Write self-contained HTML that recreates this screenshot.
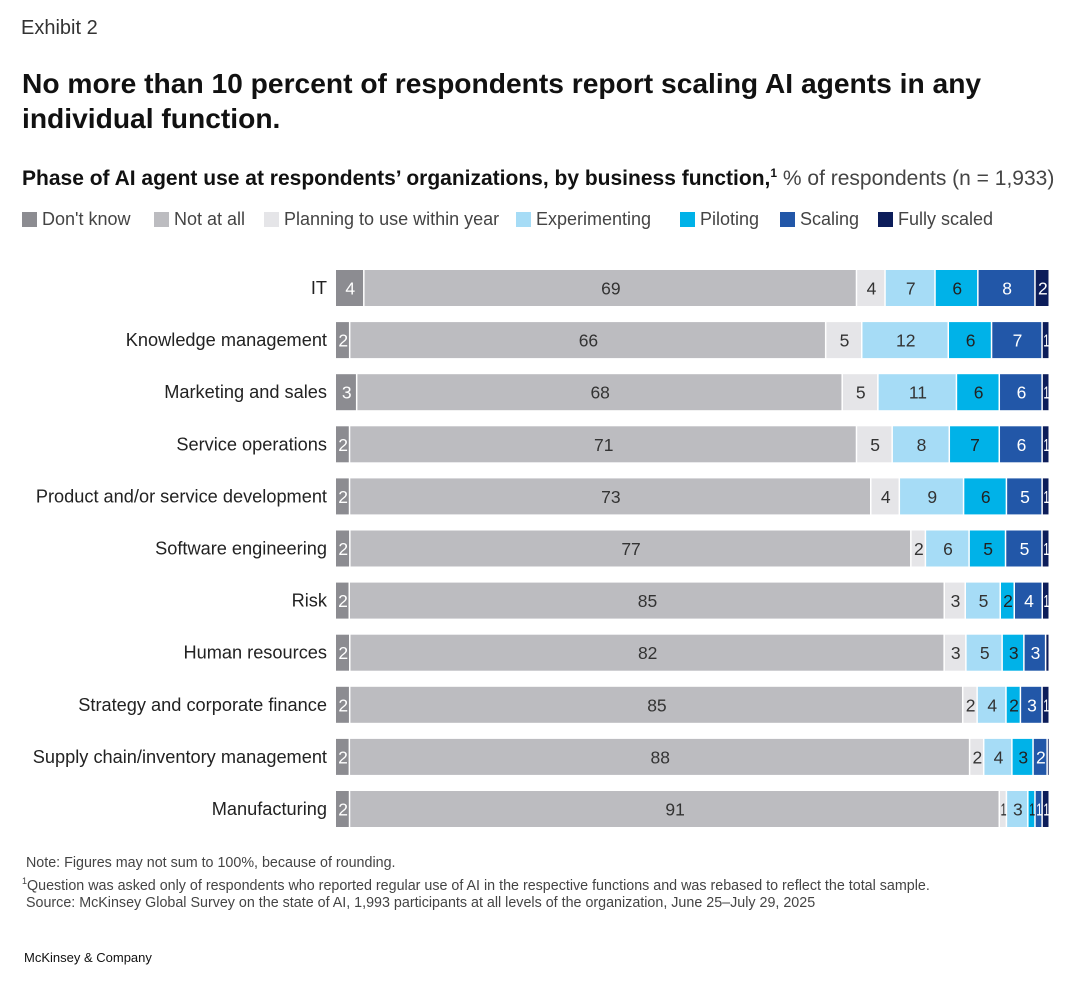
<!DOCTYPE html>
<html><head><meta charset="utf-8"><style>
body{margin:0;width:1080px;height:985px;background:#fff;font-family:"Liberation Sans",sans-serif;color:#222;position:relative;overflow:hidden}
.a{position:absolute;white-space:nowrap}
</style></head><body>
<div class="a" style="left:21px;top:17px;font-size:20px;color:#333">Exhibit 2</div>
<div class="a" style="left:22px;top:66px;font-size:28.2px;font-weight:bold;line-height:35px;color:#111">No more than 10 percent of respondents report scaling AI agents in any<br>individual function.</div>
<div class="a" style="left:22px;top:166px;font-size:21px;color:#111"><b>Phase of AI agent use at respondents’ organizations, by business function,</b><sup style="font-size:12px;font-weight:bold">1</sup> <span style="color:#444">% of respondents (n = 1,933)</span></div>
<div id="legend"></div>
<svg id="chart" width="1080" height="985" style="position:absolute;left:0;top:0"></svg>
<div class="a" style="left:22px;top:855px;font-size:14.3px;line-height:17.5px;color:#444">&nbsp;Note: Figures may not sum to 100%, because of rounding.<br><sup style="font-size:9px">1</sup>Question was asked only of respondents who reported regular use of AI in the respective functions and was rebased to reflect the total sample.<br>&nbsp;Source: McKinsey Global Survey on the state of AI, 1,993 participants at all levels of the organization, June 25–July 29, 2025</div>
<div class="a" style="left:24px;top:950px;font-size:13px;color:#111">McKinsey &amp; Company</div>
<script>
const categories=["IT","Knowledge management","Marketing and sales","Service operations","Product and/or service development","Software engineering","Risk","Human resources","Strategy and corporate finance","Supply chain/inventory management","Manufacturing"];
const seriesNames=["Don't know","Not at all","Planning to use within year","Experimenting","Piloting","Scaling","Fully scaled"];
const dontKnow=[4,2,3,2,2,2,2,2,2,2,2];
const notAtAll=[69,66,68,71,73,77,85,82,85,88,91];
const planning=[4,5,5,5,4,2,3,3,2,2,1];
const experimenting=[7,12,11,8,9,6,5,5,4,4,3];
const piloting=[6,6,6,7,6,5,2,3,2,3,1];
const scaling=[8,7,6,6,5,5,4,3,3,2,1];
const fullyScaled=[2,1,1,1,1,1,1,0.5,1,0.3,1];
const series=[dontKnow,notAtAll,planning,experimenting,piloting,scaling,fullyScaled];
const colors=["#8c8c91","#bcbcc0","#e5e5e8","#a6dcf6","#00b2e8","#2257a8","#0c1d5a"];
const textColors=["#fff","#333","#333","#333","#222","#fff","#fff"];
const svg=document.getElementById('chart');const NS="http://www.w3.org/2000/svg";
const x0=336,x1=1050,y0=270,pitch=52.1,bh=36;
categories.forEach((c,i)=>{
  const y=y0+i*pitch;
  const t=document.createElementNS(NS,'text');
  
  
  t.setAttribute('x',327);t.setAttribute('y',y+bh/2+6);t.setAttribute('text-anchor','end');
  t.setAttribute('font-size','18.2');t.setAttribute('fill','#222');t.textContent=c;svg.appendChild(t);
  let tot=0;series.forEach(s=>tot+=s[i]);
  let x=x0;
  series.forEach((s,k)=>{
    const w=s[i]/tot*(x1-x0);
    const r=document.createElementNS(NS,'rect');
    
    
    r.setAttribute('x',x);r.setAttribute('y',y);r.setAttribute('width',Math.max(w-1.5,0.8));r.setAttribute('height',bh);r.setAttribute('fill',colors[k]);svg.appendChild(r);
    if(s[i]>=1){
      const l=document.createElementNS(NS,'text');
      
      
      l.setAttribute('x',x+w/2);l.setAttribute('y',y+bh/2+6.5);l.setAttribute('text-anchor','middle');
      l.setAttribute('font-size','17.5');l.setAttribute('fill',textColors[k]);
      if(w<14)l.setAttribute('textLength',Math.max(w-1,4)),l.setAttribute('lengthAdjust','spacingAndGlyphs');
      l.textContent=Math.round(s[i]);svg.appendChild(l);
    }
    x+=w;
  });
});
const lg=document.getElementById('legend');
const lx=[22,154,264,516,680,780,878];
seriesNames.forEach((n,k)=>{
  const d=document.createElement('div');
  
  
  d.className='a';d.style.left=lx[k]+'px';d.style.top='209px';d.style.fontSize='18px';d.style.color='#444';
  d.innerHTML='<span style="display:inline-block;width:15px;height:15px;background:'+colors[k]+';vertical-align:-2px;margin-right:5px"></span>'+n;
  lg.appendChild(d);
});
</script>
</body></html>
